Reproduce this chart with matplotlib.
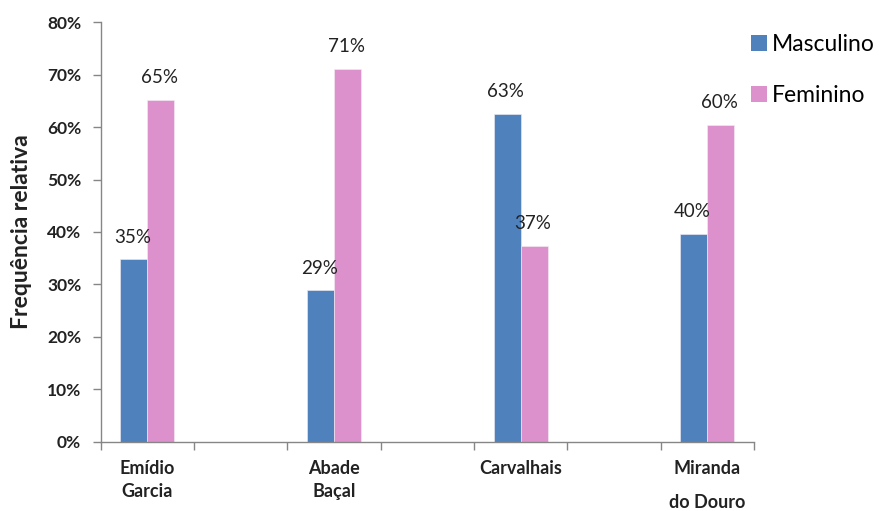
import numpy as np
import matplotlib
matplotlib.use("Agg")
import matplotlib.pyplot as plt
from matplotlib.patches import Patch

plt.rcParams["font.family"] = ["Lato", "DejaVu Sans"]

# Relative frequency (%) by school and sex
escolas = ["Emídio\nGarcia", "Abade\nBaçal", "Carvalhais", "Miranda\ndo Douro"]
masculino = [34.8, 28.9, 62.6, 39.6]
feminino = [65.2, 71.1, 37.4, 60.4]
series = ["Masculino", "Feminino"]
cores = ["#4F81BD", "#DC90CC"]
yticks = [0, 10, 20, 30, 40, 50, 60, 70, 80]

fig = plt.figure(figsize=(8.9, 5.11), dpi=100)
ax = fig.add_axes([0.1131, 0.1356, 0.7341, 0.8208])

# schools sit on every other slot of a 7-slot category axis
pos = np.arange(len(escolas)) * 2
w = 0.29
grey = "#868686"

for i, (vals, cor) in enumerate(zip([masculino, feminino], cores)):
    xs = pos + (i - 0.5) * w
    ax.bar(xs, vals, width=w, color=cor, edgecolor="#f4eef4", linewidth=0.4)
    for x, v in zip(xs, vals):
        ax.annotate(f"{v:.0f}%", (x, v), xytext=(-1, 12), textcoords="offset points",
                    ha="center", va="baseline", fontsize=13.5, color="#222222")

ax.set_xlim(-0.5, 6.5)
ax.set_ylim(0, 80)

ax.set_yticks(yticks)
ax.set_yticklabels([f"{t}%" for t in yticks], fontsize=12.5, fontweight="bold", color="#222222")
ax.tick_params(axis="y", direction="out", length=6, width=1, color=grey, pad=8)

# major ticks mark slot boundaries, labels go on minor ticks at slot centres
ax.set_xticks(np.arange(-0.5, 7, 1.0))
ax.set_xticklabels([])
ax.tick_params(axis="x", which="major", direction="out", length=6, width=1, color=grey)
ax.set_xticks(pos, minor=True)
ax.set_xticklabels(escolas, minor=True, fontsize=13, fontweight="bold", color="#222222",
                   linespacing=1.45)
ax.tick_params(axis="x", which="minor", length=0, pad=13)
ax.get_xticklabels(minor=True)[-1].set_linespacing(2.2)

for s in ["top", "right"]:
    ax.spines[s].set_visible(False)
for s in ["left", "bottom"]:
    ax.spines[s].set_color(grey)
    ax.spines[s].set_linewidth(1)

fig.text(22 / 890, 1 - 232 / 511, "Frequência relativa", rotation=90, ha="center",
         va="center", fontsize=16.5, fontweight="bold", color="#222222")

handles = [Patch(facecolor=c, edgecolor="none") for c in cores]
fig.legend(handles, series, loc="upper left", bbox_to_anchor=(0.834, 0.951), frameon=False,
           fontsize=16.5, handlelength=0.7, handleheight=0.7, handletextpad=0.2,
           labelspacing=1.3, borderaxespad=0)

fig.savefig("out.png", dpi=100)
